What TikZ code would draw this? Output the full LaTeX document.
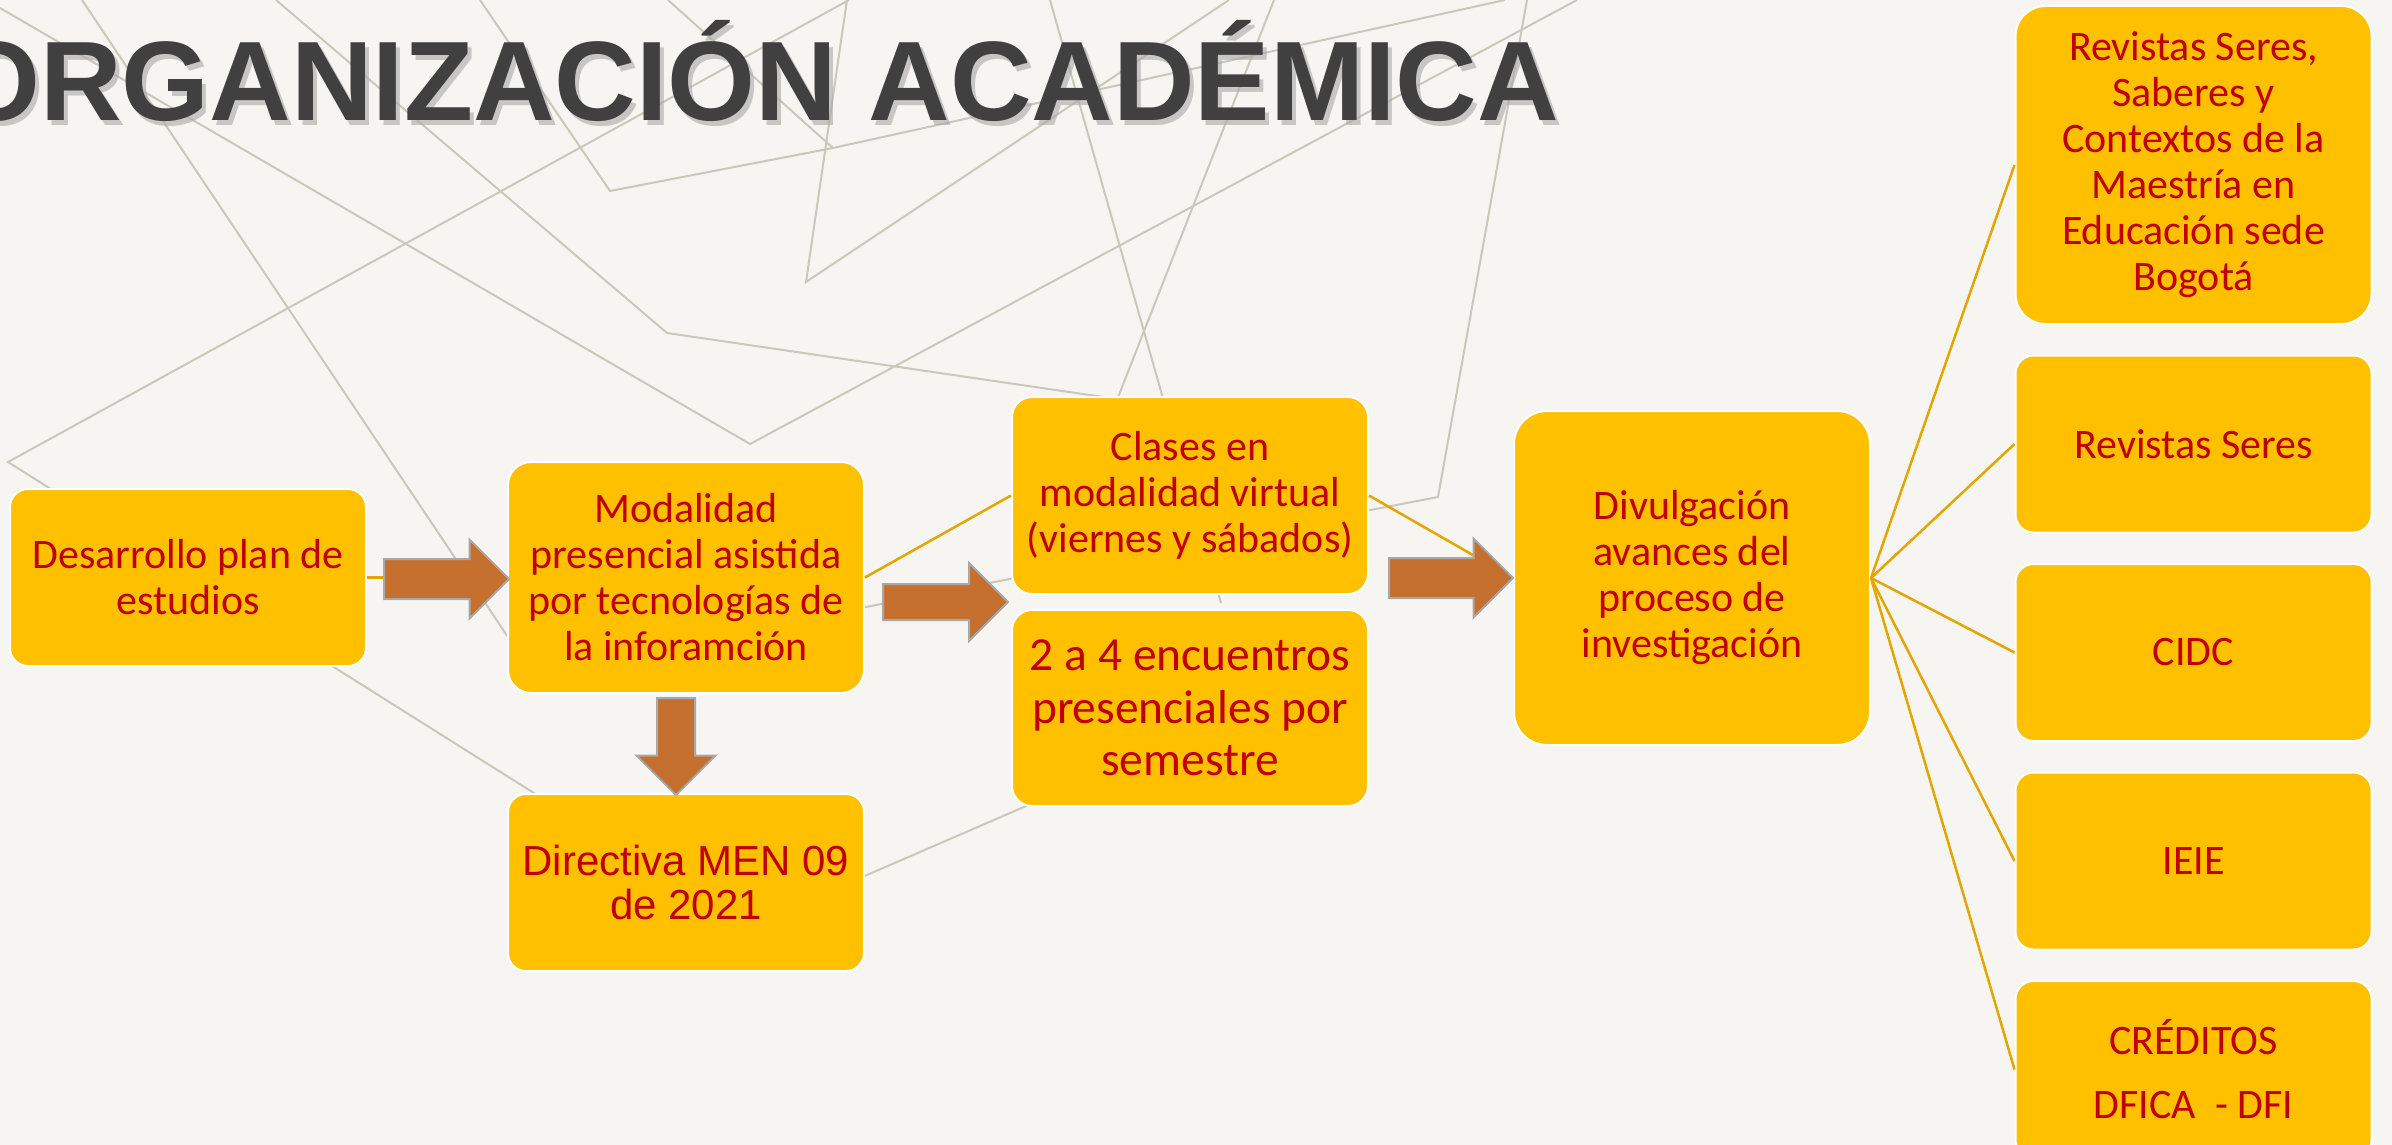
\documentclass[tikz,border=0pt]{standalone}
\usepackage{fontspec}
\setmainfont{Carlito}
\newfontfamily\arialfont{Liberation Sans}
\usetikzlibrary{positioning,shapes.arrows}
\definecolor{oapaper}{HTML}{F6F5F1}
\definecolor{oaline}{HTML}{CAC8BA}
\definecolor{oayellow}{HTML}{FFC000}
\definecolor{oared}{HTML}{C00000}
\definecolor{oagold}{HTML}{E3A600}
\definecolor{oacopper}{HTML}{C5702F}
\definecolor{oagrey}{HTML}{A8A8A8}
\definecolor{oatitle}{HTML}{404040}
\tikzset{
  bx/.style  ={rectangle, rounded corners=18pt, draw=white, line width=2pt,
               fill=oayellow, text=oared, align=center,
               font=\fontsize{42}{46}\selectfont,
               minimum width=356pt, minimum height=177pt, inner sep=0pt},
  bxa/.style ={bx, font=\arialfont\fontsize{42}{43.5}\selectfont},
  blk/.style ={single arrow, draw=oagrey, line width=2pt, fill=oacopper,
               inner sep=0pt, single arrow head extend=19.5pt,
               minimum height=125pt, text height=38pt, anchor=tail},
  cn/.style  ={draw=oagold, line width=2.5pt},
  bgl/.style ={draw=oaline, line width=2pt},
  ttl/.style ={font=\arialfont\bfseries\fontsize{113}{113}\selectfont,
               text=oatitle, anchor=base west, inner sep=0pt}
}
\begin{document}
\begin{tikzpicture}[x=1pt, y=-1pt, node distance=29.5pt]
  \useasboundingbox (0,0) rectangle (2392,1145);
  \clip (0,0) rectangle (2392,1145);
  \fill[oapaper] (0,0) rectangle (2392,1145);

  \draw[bgl] (82,0) -- (530,670);
  \draw[bgl] (0,8) -- (750,444) -- (1577,0);
  \draw[bgl] (849,0) -- (8,462) -- (545,800);
  \draw[bgl] (276,0) -- (667,333) -- (1110,398);
  \draw[bgl] (480,0) -- (610,191) -- (833,148);
  \draw[bgl] (668,0) -- (833,148) -- (1505,0);
  \draw[bgl] (847,0) -- (806,282) -- (1229,0);
  \draw[bgl] (1050,0) -- (1221,603);
  \draw[bgl] (1274,0) -- (1115,405);
  \draw[bgl] (1527,0) -- (1438,497) -- (1360,512);
  \draw[bgl] (840,612) -- (1020,577);
  \draw[bgl] (860,878) -- (1040,800);

  \node[ttl, text=oagrey, opacity=.6] at (-44,125) {ORGANIZACIÓN ACADÉMICA};
  \node[ttl] (ttl) at (-48,121) {ORGANIZACIÓN ACADÉMICA};

  \node[bx] (dev) at (188,577.5) {Desarrollo plan de\\estudios};
  \node[bx, rounded corners=23pt, minimum height=231pt, right=140pt of dev] (mod)
    {Modalidad\\presencial asistida\\por tecnologías de\\la inforamción};
  \node[bxa, below=99pt of mod] (dir) {Directiva MEN 09\\de 2021};
  \node[bx, rounded corners=20pt, minimum height=197pt] (cla) at (1190,495.5)
    {Clases en\\modalidad virtual\\(viernes y sábados)};
  \node[bx, rounded corners=20pt, minimum height=196pt, below=14pt of cla,
        font=\fontsize{47.5}{52.5}\selectfont] (enc)
    {2 a 4 encuentros\\presenciales por\\semestre};
  \node[bx, rounded corners=33pt, minimum height=334pt] (div) at (1692,578)
    {Divulgación\\avances del\\proceso de\\investigación};

  \node[bx, rounded corners=30pt, minimum height=318pt] (r1) at (2193.5,165)
    {Revistas Seres,\\Saberes y\\Contextos de la\\Maestría en\\Educación sede\\Bogotá};
  \node[bx, below=of r1] (r2) {Revistas Seres};
  \node[bx, below=of r2] (r3) {CIDC};
  \node[bx, below=of r3] (r4) {IEIE};
  \node[bx, below=of r4, font=\fontsize{42}{64}\selectfont] (r5) {CRÉDITOS\\DFICA\ \ - DFI};

  \draw[cn] (dev.east) -- (mod.west);
  \draw[cn] (mod.east) -- (cla.west);
  \draw[cn] (cla.east) -- (div.west);
  \foreach \r in {r1,r2,r3,r4,r5}
    \draw[cn] (div.east) -- (\r.west);

  \node[blk] (a1) at (383,579) {};
  \node[blk, text height=34pt, single arrow head extend=21pt] (a2) at (882,602) {};
  \node[blk, minimum height=124pt] (a3) at (1388,578) {};
  \node[blk, rotate=-90, minimum height=97pt, text height=36pt,
        single arrow head extend=20.5pt] (a4) at (676,697) {};
\end{tikzpicture}
\end{document}
